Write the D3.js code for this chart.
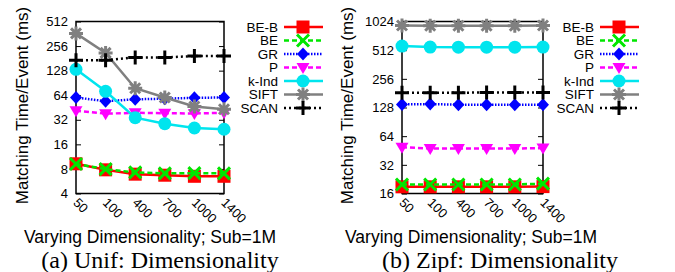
<!DOCTYPE html>
<html><head><meta charset="utf-8">
<script src="https://cdn.jsdelivr.net/npm/d3@7/dist/d3.min.js"></script>
<style>body{margin:0;background:#fff}svg{display:block}</style>
</head><body>
<svg id="c" width="675" height="272"></svg>
<script>
const categories = ["50","100","400","700","1000","1400"];
const seriesNames = ["BE-B","BE","GR","P","k-Ind","SIFT","SCAN"];
// Panel (a) Unif
const unifBEB  = [9.25, 7.8, 6.9, 6.7, 6.5, 6.5];
const unifBE   = [9.2, 7.95, 7.25, 7.05, 7.1, 7.05];
const unifGR   = [60, 54, 57, 58, 59.5, 60];
const unifP    = [41.3, 38, 39, 38.5, 38.2, 39];
const unifKInd = [133, 71.4, 34, 28.7, 25.4, 24.5];
const unifSIFT = [366, 211, 78, 60, 46.5, 43];
const unifSCAN = [172, 172, 186, 186, 193, 193];
// Panel (b) Zipf
const zipfBEB  = [18.8, 18.8, 18.8, 18.8, 18.8, 18.9];
const zipfBE   = [19.9, 19.9, 19.9, 19.9, 19.9, 20.3];
const zipfGR   = [138, 139, 137, 137, 137, 137];
const zipfP    = [49, 47.5, 47.5, 47.5, 47.5, 48];
const zipfKInd = [565, 552, 550, 550, 550, 552];
const zipfSIFT = [930, 925, 925, 925, 925, 930];
const zipfSCAN = [183, 183, 183, 184, 184, 184];
const unifTicks = [4,8,16,32,64,128,256,512];
const zipfTicks = [16,32,64,128,256,512,1024];
const yTitle = "Matching Time/Event (ms)";
const xTitle = "Varying Dimensionality; Sub=1M";
const captions = ["(a) Unif: Dimensionality","(b) Zipf: Dimensionality"];

const styles = {
  "BE-B": {color:"#ff0000", dash:null, marker:"square"},
  "BE":   {color:"#00e600", dash:"5,3", marker:"x"},
  "GR":   {color:"#0000ff", dash:"1.5,1.5", marker:"diamond"},
  "P":    {color:"#ff00ff", dash:"5,3", marker:"tri"},
  "k-Ind":{color:"#00e5ee", dash:null, marker:"circle"},
  "SIFT": {color:"#808080", dash:null, marker:"star"},
  "SCAN": {color:"#000000", dash:"2,3", marker:"plus"}
};

const svg = d3.select("#c");
svg.append("rect").attr("width",675).attr("height",272).attr("fill","#fff");

function marker(g, type, color, x, y){
  const s = g.append("g").attr("transform",`translate(${x},${y})`);
  if(type==="square") s.append("rect").attr("x",-6.5).attr("y",-6.5).attr("width",13).attr("height",13).attr("fill",color);
  else if(type==="circle") s.append("circle").attr("r",6.5).attr("fill",color);
  else if(type==="diamond") s.append("path").attr("d","M0,-6.5L6,0L0,6.5L-6,0Z").attr("fill",color);
  else if(type==="tri") s.append("path").attr("d","M-6.5,-4.5L6.5,-4.5L0,6.5Z").attr("fill",color);
  else if(type==="x") s.append("path").attr("d","M-6,-6L6,6M-6,6L6,-6").attr("stroke",color).attr("stroke-width",3);
  else if(type==="plus") s.append("path").attr("d","M-7,0L7,0M0,-7L0,7").attr("stroke",color).attr("stroke-width",3);
  else if(type==="star") s.append("path").attr("d","M-7,0L7,0M0,-7L0,7M-5,-5L5,5M-5,5L5,-5").attr("stroke",color).attr("stroke-width",3);
}

function panel(opt){
  const {x0,x1,top,bottom,domain,ticks,data,legendX,titleX,xtX,capX} = opt;
  const g = svg.append("g");
  const x = d3.scalePoint().domain(categories).range([x0,x1]);
  const y = d3.scaleLog().base(2).domain(domain).range([bottom,top]);
  const ya = g.append("g").attr("transform",`translate(${x0},0)`)
    .call(d3.axisLeft(y).tickValues(ticks).tickFormat(d3.format("d")).tickSizeInner(-5).tickSizeOuter(0).tickPadding(8));
  ya.select(".domain").remove();
  ya.selectAll("text").attr("font-family","Liberation Sans, Arial, sans-serif").attr("font-size",13).attr("fill","#000");
  ya.selectAll("line").attr("stroke","#000");
  const yr = g.append("g").attr("transform",`translate(${x1},0)`)
    .call(d3.axisRight(y).tickValues(ticks).tickFormat("").tickSizeInner(-5).tickSizeOuter(0));
  yr.select(".domain").remove();
  yr.selectAll("line").attr("stroke","#000");
  const xa = g.append("g").attr("transform",`translate(0,${bottom})`)
    .call(d3.axisBottom(x).tickSize(0).tickPadding(0));
  xa.select(".domain").remove();
  xa.selectAll("text").attr("font-family","Liberation Sans, Arial, sans-serif").attr("font-size",13).attr("fill","#000")
    .attr("text-anchor","start").attr("dy",null).attr("y",null)
    .attr("transform","translate(-4,10) rotate(45)");
  g.append("rect").attr("x",x0).attr("y",top).attr("width",x1-x0).attr("height",bottom-top)
    .attr("fill","none").attr("stroke","#000").attr("stroke-width",1.5);
  const line = d3.line().x((d,i)=>x(categories[i])).y(d=>y(d));
  seriesNames.forEach((n,k)=>{
    const st = styles[n];
    g.append("path").datum(data[k]).attr("d",line).attr("fill","none")
      .attr("stroke",st.color).attr("stroke-width",2.5).attr("stroke-dasharray",st.dash);
    data[k].forEach((v,i)=>marker(g,st.marker,st.color,x(categories[i]),y(v)));
  });
  seriesNames.forEach((n,k)=>{
    const st = styles[n];
    const ly = 27 + k*13.5;
    g.append("text").attr("x",legendX).attr("y",ly).attr("dy","0.35em").attr("text-anchor","end")
      .attr("font-family","Liberation Sans, Arial, sans-serif").attr("font-size",13.5).text(n);
    g.append("line").attr("x1",legendX+6).attr("x2",legendX+45).attr("y1",ly).attr("y2",ly)
      .attr("stroke",st.color).attr("stroke-width",2.5).attr("stroke-dasharray",st.dash);
    marker(g,st.marker,st.color,legendX+25,ly);
  });
  g.append("text").attr("transform",`translate(${titleX},${(top+bottom)/2 - 2}) rotate(-90)`)
    .attr("text-anchor","middle").attr("font-family","Liberation Sans, Arial, sans-serif").attr("font-size",17).text(yTitle);
  g.append("text").attr("x",xtX).attr("y",243).attr("text-anchor","middle")
    .attr("font-family","Liberation Sans, Arial, sans-serif").attr("font-size",17.5).text(xTitle);
  g.append("text").attr("x",capX).attr("y",268).attr("text-anchor","middle")
    .attr("font-family","Liberation Serif, Times New Roman, serif").attr("font-size",24).text(opt.caption);
}

panel({x0:76,x1:224,top:21.5,bottom:193.5,domain:[4,512],ticks:unifTicks,
  data:[unifBEB,unifBE,unifGR,unifP,unifKInd,unifSIFT,unifSCAN],legendX:278,titleX:28,xtX:150,capX:160,caption:captions[0]});
panel({x0:402,x1:543,top:21.5,bottom:193.5,domain:[16,1024],ticks:zipfTicks,
  data:[zipfBEB,zipfBE,zipfGR,zipfP,zipfKInd,zipfSIFT,zipfSCAN],legendX:594,titleX:353,xtX:471,capX:500,caption:captions[1]});
</script>
</body></html>
